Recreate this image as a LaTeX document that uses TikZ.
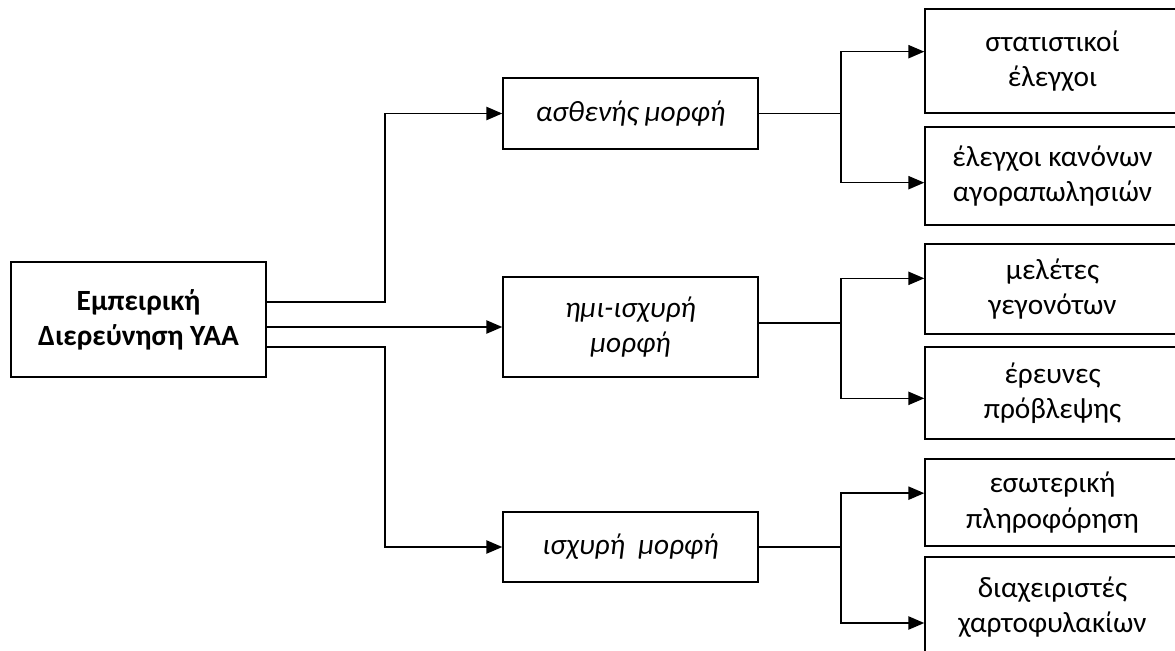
\documentclass[tikz,border=0pt]{standalone}
\usepackage{fontspec}
\setmainfont{Carlito}
\usetikzlibrary{positioning, calc, arrows.meta}

\tikzset{
  box/.style={draw, line width=1.1pt, rectangle, align=center, inner sep=0pt,
              font=\fontsize{22}{26.5}\selectfont},
  wire/.style={line width=1.1pt},
  link/.style={wire, -{Triangle[length=12pt, width=10pt]}}
}

\begin{document}
\begin{tikzpicture}[x=0.75pt,y=-0.75pt, line join=miter]
\useasboundingbox (0,0) rectangle (1175,650);

% root of the tree
\node[box, minimum width=191.25pt, minimum height=86.25pt, font=\fontsize{22}{26.5}\selectfont\bfseries]
  (root) at (138.5,319.5) {Εμπειρική\\Διερεύνηση ΥΑΑ};

% the three forms
\node[box, minimum width=191.25pt, minimum height=53.25pt, font=\fontsize{22}{26.5}\selectfont\itshape]
  (weak) at (630.5,113.5) {ασθενής μορφή};
\node[box, minimum width=191.25pt, minimum height=75pt, font=\fontsize{22}{26.5}\selectfont\itshape]
  (semi) at (630.5,327) {ημι-ισχυρή\\μορφή};
\node[box, minimum width=191.25pt, minimum height=52.5pt, font=\fontsize{22}{26.5}\selectfont\itshape]
  (strong) at (630.5,547) {ισχυρή\ \ μορφή};

% leaves
\node[box, minimum width=191.25pt, minimum height=78pt]   (r1) at (1052.5,61)    {στατιστικοί\\έλεγχοι};
\node[box, minimum width=191.25pt, minimum height=73.5pt] (r2) at (1052.5,176)   {έλεγχοι κανόνων\\αγοραπωλησιών};
\node[box, minimum width=191.25pt, minimum height=67.5pt] (r3) at (1052.5,289)   {μελέτες\\γεγονότων};
\node[box, minimum width=191.25pt, minimum height=69pt]   (r4) at (1052.5,393)   {έρευνες\\πρόβλεψης};
\node[box, minimum width=191.25pt, minimum height=65.25pt](r5) at (1052.5,502.5) {εσωτερική\\πληροφόρηση};
\node[box, minimum width=191.25pt, minimum height=75pt]   (r6) at (1052.5,607)   {διαχειριστές\\χαρτοφυλακίων};

% branch points
\coordinate (bus) at (385,0);
\coordinate (f1) at (841,113.5);
\coordinate (f2) at (841,323);
\coordinate (f3) at (841,547);

% root -> forms
\draw[link] ([yshift=13pt]root.east) -| (bus |- weak.west) -- (weak.west);
\draw[link] (root.east |- semi.west) -- (semi.west);
\draw[link] ([yshift=-20.6pt]root.east) -| (bus |- strong.west) -- (strong.west);

% forms -> leaves
\draw[wire] (weak.east) -- (f1);
\draw[link] (f1) |- ([yshift=7pt]r1.west);
\draw[link] (f1) |- ([yshift=-5pt]r2.west);

\draw[wire] (semi.east |- f2) -- (f2);
\draw[link] (f2) |- ([yshift=8pt]r3.west);
\draw[link] (f2) |- ([yshift=-4pt]r4.west);

\draw[wire] (strong.east) -- (f3);
\draw[link] (f3) |- ([yshift=7pt]r5.west);
\draw[link] (f3) |- ([yshift=-12pt]r6.west);

\end{tikzpicture}
\end{document}
